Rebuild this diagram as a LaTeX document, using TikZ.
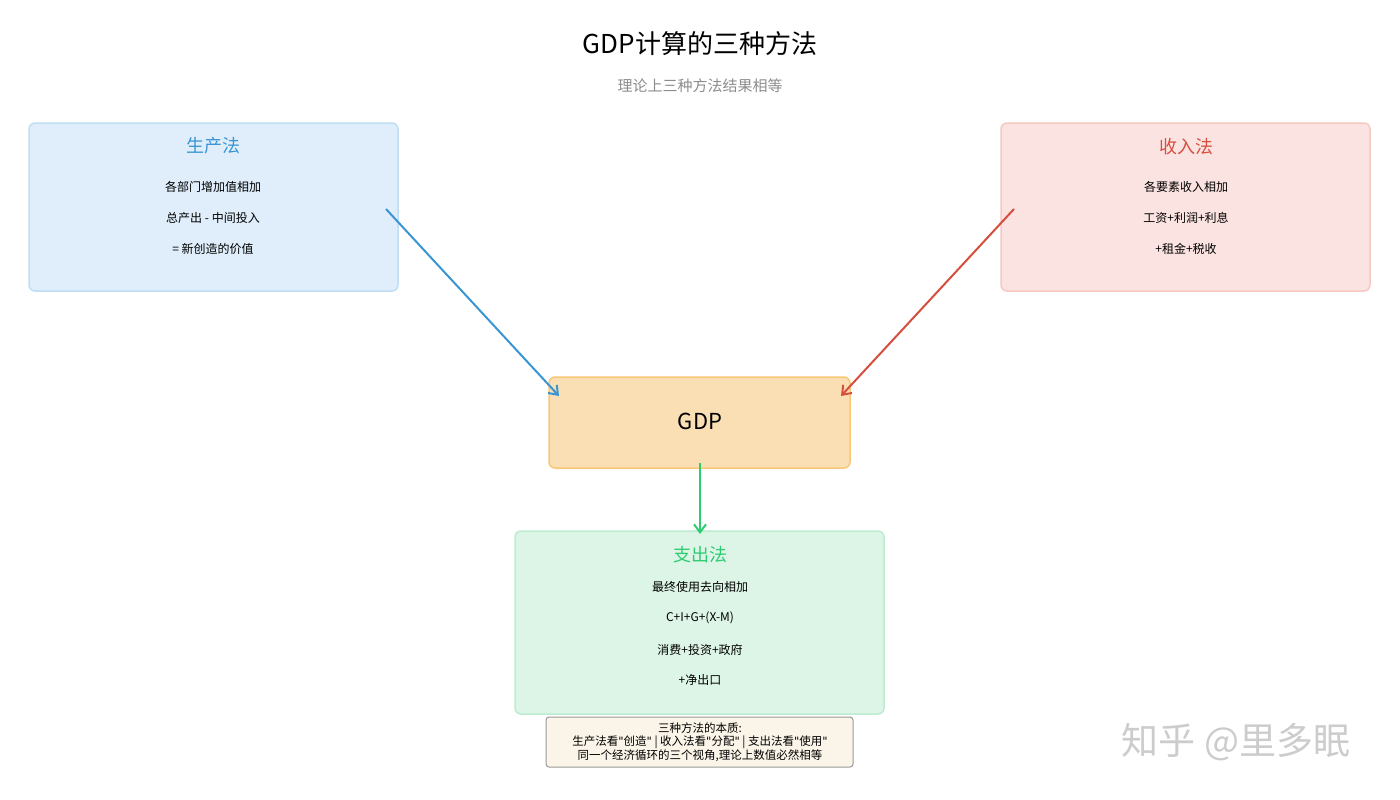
\documentclass[tikz,border=0pt]{standalone}
\usepackage{fontspec}
\setmainfont{Noto Sans CJK SC}
\newfontfamily\latq{DejaVu Sans}
\usetikzlibrary{arrows.meta}
\definecolor{bfill}{HTML}{DFEEFA}\definecolor{bdraw}{HTML}{BFDDF3}\definecolor{btxt}{HTML}{3A95D3}
\definecolor{rfill}{HTML}{FBE3E1}\definecolor{rdraw}{HTML}{F6C8C3}\definecolor{rtxt}{HTML}{D64E3E}
\definecolor{ofill}{HTML}{FADFB5}\definecolor{odraw}{HTML}{F8C876}
\definecolor{gfill}{HTML}{DDF5E7}\definecolor{gdraw}{HTML}{BCEBD0}\definecolor{gtxt}{HTML}{2ECC71}
\definecolor{nfill}{HTML}{FBF4E8}\definecolor{ndraw}{HTML}{999999}
\newcommand{\dq}{{\latq\char"22\relax}}
\tikzset{
 box/.style={rounded corners=6pt,line width=1.5pt},
 txt/.style={font=\fontsize{12}{14}\selectfont,text=black},
 head/.style={font=\fontsize{18}{20}\selectfont},
 arr/.style={line width=2pt,-{Straight Barb[length=8pt,width=12pt]}}
}
\begin{document}
\begin{tikzpicture}[x=1pt,y=-1pt]
\useasboundingbox (0,0) rectangle (1400,800);
\node (title) at (700,44) {\fontsize{26}{28}\selectfont GDP计算的三种方法};
\node (sub) at (700,86) {\fontsize{15}{17}\selectfont\color{gray!90} 理论上三种方法结果相等};
% production
\draw[box,fill=bfill,draw=bdraw] (29,123) rectangle (398,291);
\node[head,text=btxt] (ph) at (213,146) {生产法};
\node[txt] (p1) at (213,187) {各部门增加值相加};
\node[txt] (p2) at (213,218) {总产出 - 中间投入};
\node[txt] (p3) at (213,249) {= 新创造的价值};
\coordinate (ps) at (386,209);
% income
\draw[box,fill=rfill,draw=rdraw] (1001,123) rectangle (1370,291);
\node[head,text=rtxt] (ih) at (1186,147) {收入法};
\node[txt] (i1) at (1186,187) {各要素收入相加};
\node[txt] (i2) at (1186,218) {工资+利润+利息};
\node[txt] (i3) at (1186,249) {+租金+税收};
\coordinate (is) at (1014,209);
% GDP
\draw[box,fill=ofill,draw=odraw] (549,377) rectangle (850,468);
\node (gdp) at (700,421) {\fontsize{22}{24}\selectfont GDP};
\coordinate (pe) at (559,396);
\coordinate (ie) at (841,396);
\coordinate (gs) at (700,463);
% expenditure
\draw[box,fill=gfill,draw=gdraw] (515,531) rectangle (884,714);
\node[head,text=gtxt] (eh) at (700,555) {支出法};
\node[txt] (e1) at (700,587) {最终使用去向相加};
\node[txt] (e2) at (700,618) {C+I+G+(X-M)};
\node[txt] (e3) at (700,650) {消费+投资+政府};
\node[txt] (e4) at (700,680) {+净出口};
\coordinate (ge) at (700,534);
% arrows
\draw[arr,draw=btxt] (ps) -- (pe);
\draw[arr,draw=rtxt] (is) -- (ie);
\draw[arr,draw=gtxt] (gs) -- (ge);
% note
\draw[rounded corners=3pt,fill=nfill,draw=ndraw,line width=1pt] (546,717) rectangle (853,767);
\node[font=\fontsize{11.5}{13.5}\selectfont,align=center] (note) at (700,742) {三种方法的本质:\\生产法看\dq 创造\dq{} | 收入法看\dq 分配\dq{} | 支出法看\dq 使用\dq\\同一个经济循环的三个视角,理论上数值必然相等};
% watermark
\node[text=gray!40,font=\fontsize{37}{39}\selectfont] (wm) at (1236,742) {知乎 @里多眠};
\end{tikzpicture}
\end{document}
